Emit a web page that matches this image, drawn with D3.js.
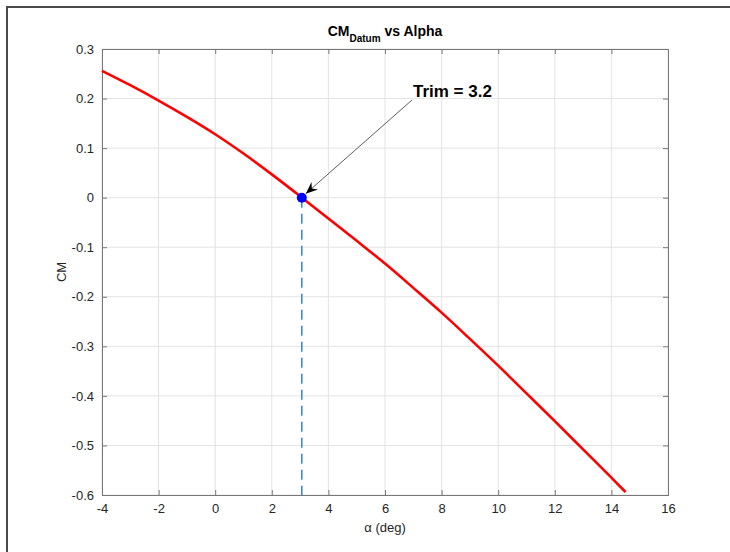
<!DOCTYPE html>
<html>
<head>
<meta charset="utf-8">
<script src="https://cdn.jsdelivr.net/npm/d3@7"></script>
<style>
  body { margin: 0; background: #fff; }
  text { font-family: "Liberation Sans", Arial, sans-serif; fill: #262626; }
</style>
</head>
<body>
<div id="chart"></div>
<script>
// Data
var alpha = [-4, -3, -2, -1, 0, 1, 2, 3, 4, 5, 6, 7, 8, 9, 10, 11, 12, 13, 14, 14.5];
var cm = [0.256, 0.227, 0.196, 0.163, 0.128, 0.089, 0.047, 0.003, -0.042, -0.087,
          -0.133, -0.182, -0.232, -0.285, -0.339, -0.395, -0.451, -0.508, -0.565, -0.594];
var trimAlpha = 3.06;
var trimCm = 0;
var trimLabel = "Trim = 3.2";
var xTicks = [-4, -2, 0, 2, 4, 6, 8, 10, 12, 14, 16];
var yTicks = [-0.6, -0.5, -0.4, -0.3, -0.2, -0.1, 0, 0.1, 0.2, 0.3];

var svgWidth = 730;
var svgHeight = 552;
var margin = { top: 49, right: 62, bottom: 57, left: 102 };
var width = svgWidth - margin.left - margin.right;
var height = svgHeight - margin.top - margin.bottom;

var svg = d3.select("#chart")
  .append("svg")
  .attr("width", svgWidth)
  .attr("height", svgHeight);

// window frame (left + top edge)
svg.append("path")
  .attr("d", "M7,552 V7 H730")
  .attr("fill", "none")
  .attr("stroke", "#4a4a4a")
  .attr("stroke-width", 2);

var defs = svg.append("defs");
defs.append("marker")
  .attr("id", "head")
  .attr("markerUnits", "userSpaceOnUse")
  .attr("viewBox", "0 0 12 10")
  .attr("refX", 12)
  .attr("refY", 5)
  .attr("markerWidth", 12)
  .attr("markerHeight", 10)
  .attr("orient", "auto")
  .append("path")
  .attr("d", "M0,0 L12,5 L0,10 L4,5 Z")
  .attr("fill", "#000");

var chartGroup = svg.append("g")
  .attr("transform", `translate(${margin.left}, ${margin.top})`);

var x = d3.scaleLinear().domain([-4, 16]).range([0, width]);
var y = d3.scaleLinear().domain([-0.6, 0.3]).range([height, 0]);

// plain hyphen minus, like the original
var fmtX = d => String(d);
var fmtY = d => d === 0 ? "0" : d.toFixed(1);

// grid
chartGroup.append("g")
  .selectAll("line")
  .data(xTicks)
  .enter()
  .append("line")
  .attr("x1", d => x(d)).attr("x2", d => x(d))
  .attr("y1", 0).attr("y2", height)
  .attr("stroke", "#e3e3e3");

chartGroup.append("g")
  .selectAll("line")
  .data(yTicks)
  .enter()
  .append("line")
  .attr("x1", 0).attr("x2", width)
  .attr("y1", d => y(d)).attr("y2", d => y(d))
  .attr("stroke", "#e3e3e3");

// axes with inward ticks on all four sides
function styleAxis(g) {
  g.select(".domain").attr("stroke", "#777");
  g.selectAll(".tick line").attr("stroke", "#777");
  g.selectAll(".tick text")
    .style("font-size", "13px")
    .style("fill", "#262626")
    .attr("font-family", "Liberation Sans, Arial, sans-serif");
}

chartGroup.append("g")
  .attr("transform", `translate(0, ${height})`)
  .call(d3.axisBottom(x).tickValues(xTicks).tickSize(-5).tickPadding(9).tickFormat(fmtX))
  .call(styleAxis);

chartGroup.append("g")
  .call(d3.axisTop(x).tickValues(xTicks).tickSize(-5).tickFormat(""))
  .call(styleAxis);

chartGroup.append("g")
  .call(d3.axisLeft(y).tickValues(yTicks).tickSize(-5).tickPadding(8).tickFormat(fmtY))
  .call(styleAxis);

chartGroup.append("g")
  .attr("transform", `translate(${width}, 0)`)
  .call(d3.axisRight(y).tickValues(yTicks).tickSize(-5).tickFormat(""))
  .call(styleAxis);

// CM curve
var line = d3.line()
  .x((d, i) => x(alpha[i]))
  .y(d => y(d))
  .curve(d3.curveCatmullRom.alpha(0.5));

chartGroup.append("path")
  .datum(cm)
  .attr("d", line)
  .attr("fill", "none")
  .attr("stroke", "#ff0000")
  .attr("stroke-width", 2.6);

// dashed drop line at trim
chartGroup.append("line")
  .attr("x1", x(trimAlpha)).attr("x2", x(trimAlpha))
  .attr("y1", y(trimCm)).attr("y2", y(-0.6))
  .attr("stroke", "#2e86d1")
  .attr("stroke-width", 1.5)
  .attr("stroke-dasharray", "10,6");

chartGroup.append("circle")
  .attr("cx", x(trimAlpha))
  .attr("cy", y(trimCm))
  .attr("r", 5)
  .attr("fill", "#0000ff");

// annotation arrow + label
chartGroup.append("line")
  .attr("x1", 310).attr("y1", 51)
  .attr("x2", x(trimAlpha) + 4).attr("y2", y(trimCm) - 4)
  .attr("stroke", "#333")
  .attr("stroke-width", 0.8)
  .attr("marker-end", "url(#head)");

chartGroup.append("text")
  .attr("x", 311)
  .attr("y", 48)
  .style("font-size", "17px")
  .style("font-weight", "bold")
  .style("fill", "#000")
  .text(trimLabel);

// title with subscript
var title = svg.append("text")
  .attr("x", margin.left + width / 2)
  .attr("y", 36)
  .style("text-anchor", "middle")
  .style("font-size", "14px")
  .style("font-weight", "bold")
  .style("fill", "#000");
title.append("tspan").text("CM");
title.append("tspan").attr("dy", 6).style("font-size", "10px").text("Datum");
title.append("tspan").attr("dy", -6).text(" vs Alpha");

// axis labels
svg.append("text")
  .attr("x", margin.left + width / 2)
  .attr("y", 532)
  .style("text-anchor", "middle")
  .style("font-size", "13px")
  .text("α (deg)");

svg.append("text")
  .attr("transform", `translate(66, ${margin.top + height / 2}) rotate(-90)`)
  .style("text-anchor", "middle")
  .style("font-size", "13px")
  .text("CM");
</script>
</body>
</html>
